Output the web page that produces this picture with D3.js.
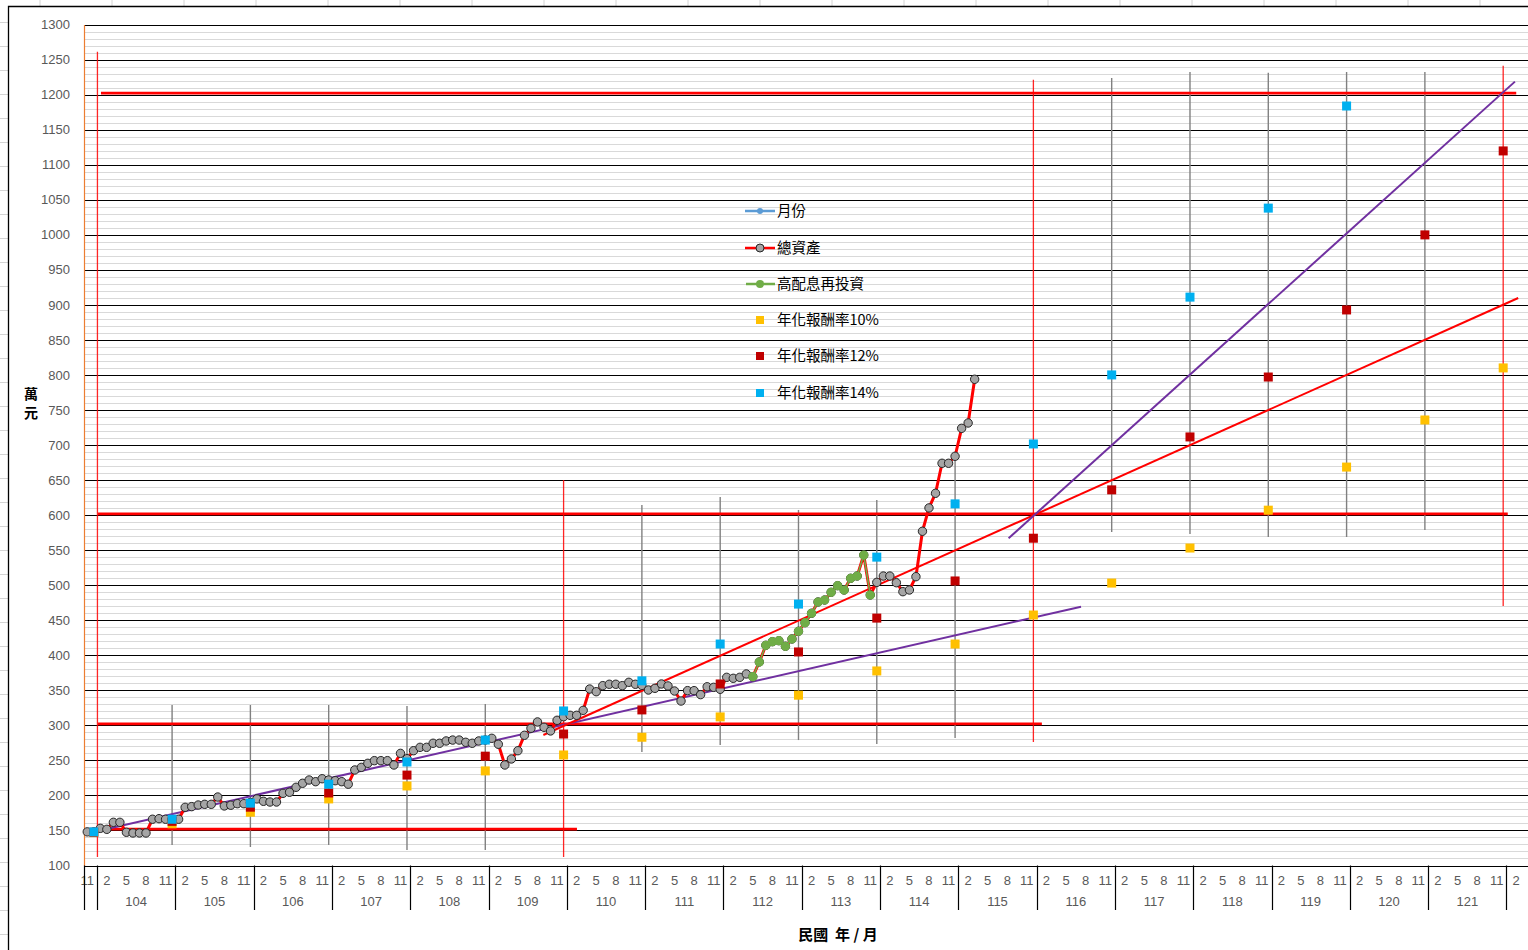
<!DOCTYPE html>
<html><head><meta charset="utf-8">
<script src="https://cdn.jsdelivr.net/npm/d3@7"></script>
<style>body{margin:0;background:#fff}svg{display:block}</style>
</head><body>
<svg id="c" width="1528" height="950"></svg>
<script>
// ---------- data ----------
const startYear = 103, startMonth = 11, monthCount = 221;
const yearLabels = ["104","105","106","107","108","109","110","111","112","113","114","115","116","117","118","119","120","121"];
const yTickValues = [100,150,200,250,300,350,400,450,500,550,600,650,700,750,800,850,900,950,1000,1050,1100,1150,1200,1250,1300];

// 總資產 monthly, from 103/11
const totalAssets = [148,148,153,151.6,161.6,161.6,147.4,146.4,146.4,146.4,166,166.8,166,165,166,183,184,186.3,187.3,187.3,
  197.7,185,186,188.2,188.2,190,195,191.6,190.6,190.6,203,204.5,211.6,217.3,222,219.6,223.8,222,221,219.6,
  216,236.3,240,245.8,249.6,249.6,249.6,243.4,260,252.4,263.8,268.6,268.6,274.4,274.4,277.7,279,279,275.8,274.4,
  277.7,279,281.5,273,243.4,252,263.8,285.8,295.8,304.8,297.2,292,307.2,312.3,314.3,314.3,321.4,351.8,348,356.6,
  358.6,358.6,356.6,361.4,358.6,357,350.4,352.8,359,356.2,349,334.7,349.5,349.5,343.8,355,354.2,351.4,368.5,367.1,
  368.5,373.3,369.4,390.4,414.2,419.4,420.8,412.8,423.2,434.2,446.5,459.9,476,478.8,489.8,499.3,493.1,509.8,513.1,543,
  486,504,513,513,503.5,490.7,493.1,512.1,576.9,610.2,631.1,673.9,673.9,683.9,723.8,731.4,793.8];
// 高配息再投資 (112/05 - 113/11)
const highDivStartIndex = 102;
const highDividend = [369.4,390.4,414.2,419.4,420.8,412.8,423.2,434.2,446.5,459.9,476,478.8,489.8,499.3,493.1,509.8,513.1,543,486];

// 年化報酬率 points, every December from 103/12
const decIndex = [1,13,25,37,49,61,73,85,97,109,121,133,145,157,169,181,193,205,217];
const rate10 = [147,159.5,176,195,213.5,235,257.7,283,312,343,377.6,416,457.4,503,553,607,668.5,735.7,810];
const rate12 = [147.5,163,183.2,203.5,229,256,287.6,322,359,404.7,453,506,567,636,711.5,797,892.7,999.8,1119.6];
const rate14 = [148,166,189,216,247.7,279,320.5,363.5,416,473,540,616,701.5,800,911,1038,1183.7,null,null];

// vertical range lines (month index, low, high)
const grayLineIndex = [13,25,37,49,61,85,97,109,121,133,157,169,181,193,205];
const grayLineLow   = [129.3,126.4,129.3,122,122,261.9,271.9,279,273.3,281.9,575.9,573,568.8,568.8,578.8];
const grayLineHigh  = [329,329,329,327.6,330.5,614.4,625.8,607.3,621.5,678.6,1223.8,1232.4,1231,1232.4,1232.4];
const redVLineIndex = [1.56,73,145,217];
const redVLineLow   = [112,112,276.2,470.4];
const redVLineHigh  = [1261,650,1221,1241];

// horizontal target lines (value, from index, to index)
const targetValue = [152,302,601.6,1202];
const targetFrom  = [1.65,1.65,1.65,2.1];
const targetTo    = [75.05,146.3,217.7,219];

// trend lines: [fromIndex, fromValue, toIndex, toValue]
const trendA = [-0.35,145,152.3,469.3];    // purple
const trendB = [69.9,286.2,219.3,909.8];   // red
const trendC = [141.2,566.9,218.8,1218.5]; // purple

const legendLabels = ["月份","總資產","高配息再投資","年化報酬率10%","年化報酬率12%","年化報酬率14%"];

// ---------- layout ----------
const svg = d3.select("#c");
const L = 84, T = 24.5, B = 865.5, monthW = 6.525;
const x = d3.scaleLinear().domain([-0.5, monthCount - 0.5]).range([L, L + monthCount * monthW]);
const y = d3.scaleLinear().domain([100, 1300]).range([B, T]);
const R = 1528;
const numFont = "'Liberation Sans', Arial, sans-serif";
const cjkFont = "'Noto Sans CJK TC', 'Noto Sans CJK SC', sans-serif";

// excel cell grid outside chart
const bg = svg.append("g");
for (let gx = 40; gx < R; gx += 72) bg.append("line").attr("x1", gx).attr("x2", gx).attr("y1", 0).attr("y2", 6).attr("stroke", "#d4d4d4");
for (let gy = 22.5; gy < 950; gy += 24) bg.append("line").attr("x1", 0).attr("x2", 8).attr("y1", gy).attr("y2", gy).attr("stroke", "#d4d4d4");
svg.append("path").attr("d", `M8.5,950V6.5H${R}`).attr("fill", "none").attr("stroke", "#000").attr("stroke-width", 1.3);

// gridlines
const grid = svg.append("g");
const minor = d3.range(100, 1301, 10).filter(v => v % 50 !== 0);
grid.selectAll(".mn").data(minor).join("line")
  .attr("x1", L).attr("x2", R).attr("y1", d => Math.round(y(d)) + 0.5).attr("y2", d => Math.round(y(d)) + 0.5)
  .attr("stroke", "#d9d9d9").attr("stroke-width", 1);
grid.selectAll(".mj").data(yTickValues).join("line")
  .attr("x1", L).attr("x2", R).attr("y1", d => Math.round(y(d)) + 0.5).attr("y2", d => Math.round(y(d)) + 0.5)
  .attr("stroke", "#000").attr("stroke-width", 1.2);

// y axis labels
const yAxis = d3.axisLeft(y).tickValues(yTickValues).tickFormat(d3.format("d")).tickSize(0).tickPadding(14);
const ya = svg.append("g").attr("transform", `translate(${L},0)`).call(yAxis);
ya.select(".domain").attr("stroke", "#ed7d31").attr("stroke-width", 1.2);
ya.selectAll("text").attr("font-family", numFont).attr("font-size", 13).attr("fill", "#595959");

// x category axis (two levels)
const cats = d3.range(monthCount).map(i => {
  const m0 = startMonth - 1 + i;
  return { i, year: startYear + Math.floor(m0 / 12), month: (m0 % 12) + 1 };
});
const xa = svg.append("g").attr("font-family", numFont).attr("font-size", 13).attr("fill", "#595959");
xa.selectAll(".ml").data(cats.filter(c => c.i % 3 === 0)).join("text")
  .attr("x", c => x(c.i)).attr("y", 885).attr("text-anchor", "middle").text(c => c.month);
const bounds = [-0.5].concat(cats.filter(c => c.month === 1).map(c => c.i - 0.5));
xa.selectAll(".sep").data(bounds).join("line")
  .attr("x1", d => Math.round(x(d)) + 0.5).attr("x2", d => Math.round(x(d)) + 0.5)
  .attr("y1", B).attr("y2", 910).attr("stroke", "#000").attr("stroke-width", 1.2);
xa.selectAll(".yl").data(yearLabels).join("text")
  .attr("x", d => { const s = cats.find(c => c.year === +d && c.month === 1).i; return x(s + 5.5); })
  .attr("y", 906).attr("text-anchor", "middle").text(d => d);

// axis titles
svg.append("text").attr("x", 838).attr("y", 940).attr("text-anchor", "middle")
  .attr("font-family", cjkFont).attr("font-weight", "bold").attr("font-size", 15).attr("fill", "#000")
  .attr("xml:space", "preserve").style("white-space", "pre")
  .text("民國  年 / 月");
svg.append("text").attr("x", 31).attr("y", 399).attr("text-anchor", "middle")
  .attr("font-family", cjkFont).attr("font-weight", "bold").attr("font-size", 14).text("萬");
svg.append("text").attr("x", 31).attr("y", 418).attr("text-anchor", "middle")
  .attr("font-family", cjkFont).attr("font-weight", "bold").attr("font-size", 14).text("元");

// vertical range lines
svg.append("g").selectAll("line").data(grayLineIndex).join("line")
  .attr("x1", d => x(d)).attr("x2", d => x(d))
  .attr("y1", (d, k) => y(grayLineHigh[k])).attr("y2", (d, k) => y(grayLineLow[k]))
  .attr("stroke", "#808080").attr("stroke-width", 1.4);
svg.append("g").selectAll("line").data(redVLineIndex).join("line")
  .attr("x1", d => x(d)).attr("x2", d => x(d))
  .attr("y1", (d, k) => y(redVLineHigh[k])).attr("y2", (d, k) => y(redVLineLow[k]))
  .attr("stroke", "#ff0000").attr("stroke-width", 1.3).attr("opacity", 0.85);

// horizontal target lines
svg.append("g").selectAll("line").data(targetValue).join("line")
  .attr("x1", (d, k) => x(targetFrom[k])).attr("x2", (d, k) => x(targetTo[k]))
  .attr("y1", d => y(d)).attr("y2", d => y(d))
  .attr("stroke", "#ff0000").attr("stroke-width", 2.8);

// trend lines
[[trendA, "#7030a0"], [trendB, "#ff0000"], [trendC, "#7030a0"]].forEach(([t, col]) => {
  svg.append("line").attr("x1", x(t[0])).attr("y1", y(t[1])).attr("x2", x(t[2])).attr("y2", y(t[3]))
    .attr("stroke", col).attr("stroke-width", 2);
});

// total assets
const line = d3.line().x(d => x(d.i)).y(d => y(d.v));
const ta = totalAssets.map((v, i) => ({ i, v }));
svg.append("path").attr("d", line(ta)).attr("fill", "none").attr("stroke", "#ff0000").attr("stroke-width", 3).attr("stroke-linejoin", "round");
svg.append("g").selectAll("circle").data(ta).join("circle")
  .attr("cx", d => x(d.i)).attr("cy", d => y(d.v)).attr("r", 4.2)
  .attr("fill", "#a5a5a5").attr("stroke", "#262626").attr("stroke-width", 1);

// high dividend reinvest
const hd = highDividend.map((v, k) => ({ i: highDivStartIndex + k, v }));
svg.append("path").attr("d", line(hd)).attr("fill", "none").attr("stroke", "#70ad47").attr("stroke-width", 1.6);
svg.append("g").selectAll("circle").data(hd).join("circle")
  .attr("cx", d => x(d.i)).attr("cy", d => y(d.v)).attr("r", 4.6).attr("fill", "#70ad47");

// square markers (drawn on top)
const sq = 9;
[[rate10, "#ffc000"], [rate12, "#c00000"], [rate14, "#00b0f0"]].forEach(([arr, col]) => {
  svg.append("g").selectAll("rect").data(arr.map((v, k) => ({ v, i: decIndex[k] })).filter(d => d.v != null)).join("rect")
    .attr("x", d => x(d.i) - sq / 2).attr("y", d => y(d.v) - sq / 2).attr("width", sq).attr("height", sq).attr("fill", col);
});

// legend
const lg = svg.append("g");
const ly = [211, 248, 284, 320, 356, 393];
legendLabels.forEach((lab, k) => {
  const yy = ly[k];
  if (k === 0) {
    lg.append("line").attr("x1", 745).attr("x2", 775).attr("y1", yy).attr("y2", yy).attr("stroke", "#5b9bd5").attr("stroke-width", 2.5);
    lg.append("circle").attr("cx", 760).attr("cy", yy).attr("r", 3).attr("fill", "#5b9bd5");
  } else if (k === 1) {
    lg.append("line").attr("x1", 745).attr("x2", 775).attr("y1", yy).attr("y2", yy).attr("stroke", "#ff0000").attr("stroke-width", 2.5);
    lg.append("circle").attr("cx", 760).attr("cy", yy).attr("r", 4).attr("fill", "#a5a5a5").attr("stroke", "#262626");
  } else if (k === 2) {
    lg.append("line").attr("x1", 746).attr("x2", 775).attr("y1", yy).attr("y2", yy).attr("stroke", "#70ad47").attr("stroke-width", 2.5);
    lg.append("circle").attr("cx", 760).attr("cy", yy).attr("r", 4).attr("fill", "#70ad47");
  } else {
    const col = ["#ffc000", "#c00000", "#00b0f0"][k - 3];
    lg.append("rect").attr("x", 756).attr("y", yy - 4).attr("width", 8).attr("height", 8).attr("fill", col);
  }
  lg.append("text").attr("x", 777).attr("y", yy + 5).attr("font-family", cjkFont).attr("font-size", 14.5).attr("fill", "#000").text(lab);
});
</script>
</body></html>
